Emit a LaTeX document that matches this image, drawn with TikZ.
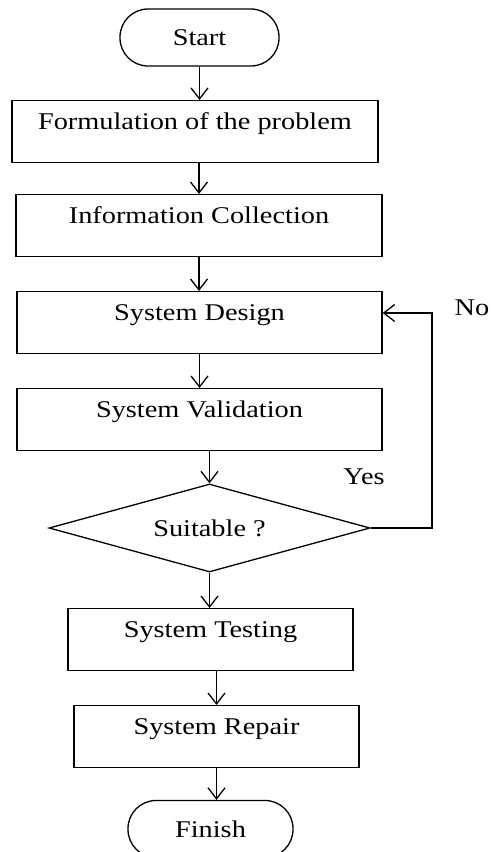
\documentclass[tikz,border=0pt]{standalone}
\usepackage{fontspec}
\setmainfont{Liberation Serif}[FakeStretch=1.18]
\usepackage{tikz}
\usetikzlibrary{shapes,shapes.geometric,arrows.meta}
\tikzstyle{every node}=[font=\fontsize{24}{28}\selectfont]
\tikzstyle{box}=[draw,rectangle,line width=1.3pt,anchor=north,inner sep=5pt,text height=24pt,text depth=28pt,minimum width=366pt]
\tikzstyle{smallbox}=[box,minimum width=285pt]
\tikzstyle{term}=[draw,rectangle,line width=1.3pt,rounded corners=28pt,minimum height=57pt]
\tikzstyle{decision}=[draw,diamond,line width=1.3pt,inner sep=0pt,aspect=3.6,minimum width=321pt,minimum height=88pt]
\tikzstyle{arr}=[line width=1.3pt,-{Straight Barb[length=11pt,width=17pt]}]

\begin{document}
\begin{tikzpicture}[x=1pt,y=-1pt]
\useasboundingbox (0,0) rectangle (491,852);
  \node[term,minimum width=159pt] (start) at (199.5,37.5) {Start};
  \node[box] (form) at (195,100) {Formulation of the problem};
  \node[box] (info) at (199,194) {Information Collection};
  \node[box,minimum width=365pt] (design) at (199.5,291) {System Design};
  \node[box,minimum width=365pt] (valid) at (199.5,388) {System Validation};
  \node[decision] (suit) at (209.5,528) {Suitable ?};
  \node[smallbox] (test) at (210.5,608) {System Testing};
  \node[smallbox] (repair) at (216.5,705) {System Repair};
  \node[term,minimum width=165pt] (finish) at (210.5,829) {Finish};
  \node (yes) at (364,477) {Yes};
  \node (no) at (472,308) {No};
  \coordinate (loop) at (432,313);
  \draw[arr] (start.south) -- (start.south |- form.north);
  \draw[arr] (form.south -| info.north) -- (info.north);
  \draw[arr] (info.south) -- (info.south |- design.north);
  \draw[arr] (design.south) -- (design.south |- valid.north);
  \draw[arr] (suit.north |- valid.south) -- (suit.north);
  \draw[arr] (suit.south) -- (suit.south |- test.north);
  \draw[arr] (repair.north |- test.south) -- (repair.north);
  \draw[arr] (repair.south) -- (repair.south |- finish.north);
  \draw[arr] (suit.east) -| (loop) -- (loop -| design.east);
\end{tikzpicture}
\end{document}
